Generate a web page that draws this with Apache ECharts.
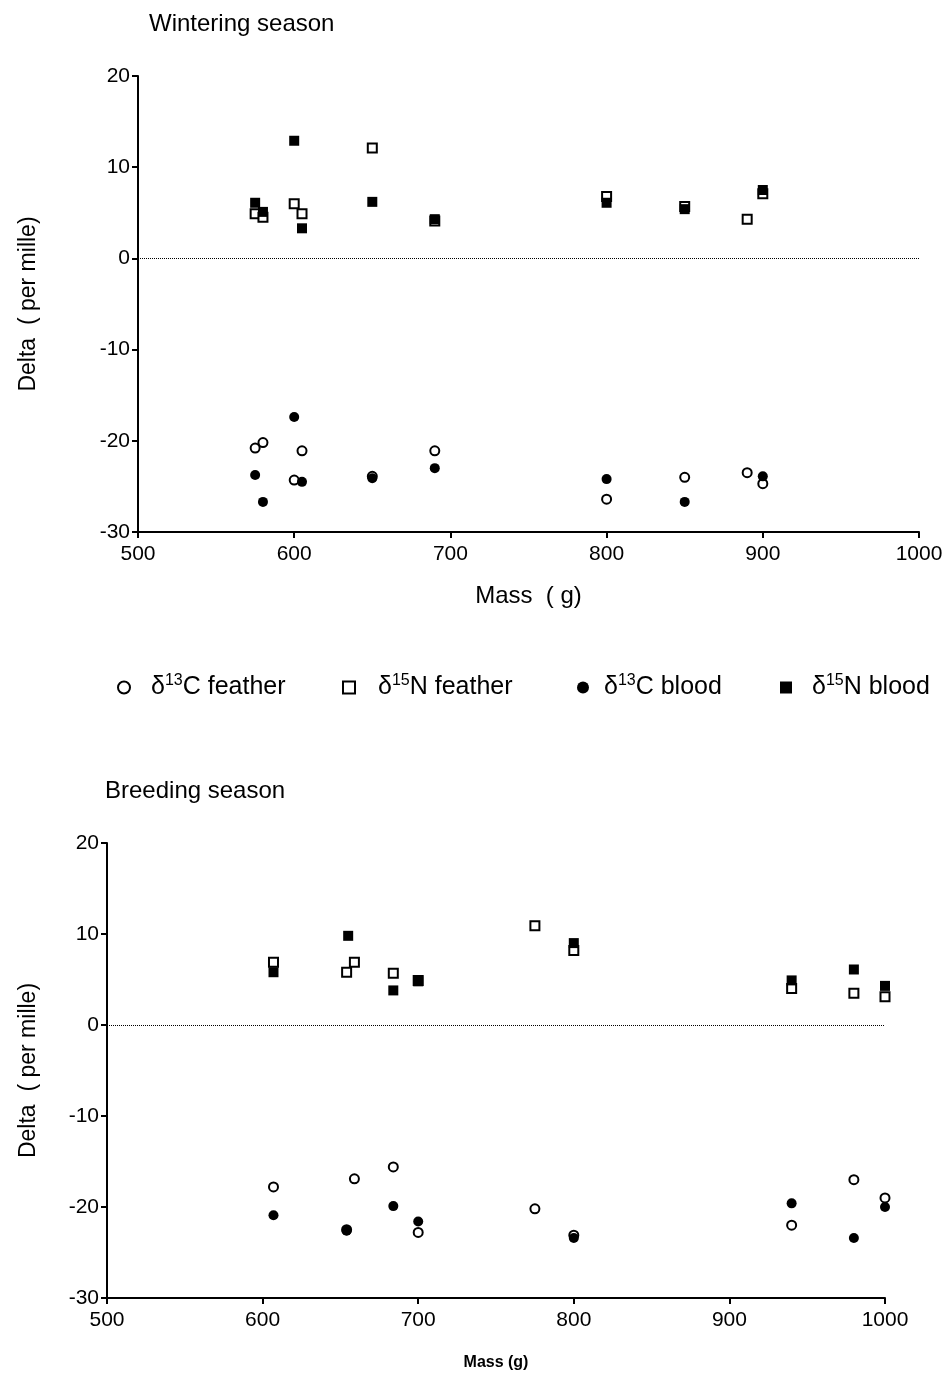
<!DOCTYPE html>
<html>
<head>
<meta charset="utf-8">
<script src="https://cdn.jsdelivr.net/npm/echarts@6/dist/echarts.min.js"></script>
<style>
  html, body { margin: 0; padding: 0; background: #fff; }
  #chart { width: 949px; height: 1375px; }
</style>
</head>
<body>
<div id="chart"></div>
<script>
// axis ticks
const massTicks = [500, 600, 700, 800, 900, 1000]
const deltaTicks = [-30, -20, -10, 0, 10, 20]

// wintering season: [mass (g), delta (per mille)]
const winterCFeather = [[575, -20.8], [580, -20.2], [600, -24.3], [605, -21.1], [650, -23.9], [690, -21.1], [800, -26.4], [850, -24.0], [890, -23.5], [900, -24.7]]
const winterNFeather = [[575, 4.9], [580, 4.5], [600, 6.0], [605, 4.9], [650, 12.1], [690, 4.1], [800, 6.8], [850, 5.7], [890, 4.3], [900, 7.1]]
const winterCBlood = [[575, -23.75], [580, -26.7], [600, -17.4], [605, -24.5], [650, -24.1], [690, -23.0], [800, -24.2], [850, -26.7], [900, -23.9]]
const winterNBlood = [[575, 6.1], [580, 5.1], [600, 12.9], [605, 3.3], [650, 6.2], [690, 4.3], [800, 6.1], [850, 5.4], [900, 7.5]]

// breeding season
const breedCFeather = [[607, -17.8], [654, -22.5], [659, -16.9], [684, -15.6], [700, -22.8], [775, -20.2], [800, -23.1], [940, -22.0], [980, -17.0], [1000, -19.0]]
const breedNFeather = [[607, 6.9], [654, 5.8], [659, 6.9], [684, 5.7], [700, 4.9], [775, 10.9], [800, 8.2], [940, 4.0], [980, 3.5], [1000, 3.1]]
const breedCBlood = [[607, -20.9], [654, -22.6], [684, -19.9], [700, -21.6], [800, -23.4], [940, -19.6], [980, -23.4], [1000, -20.0]]
const breedNBlood = [[607, 5.8], [655, 9.8], [684, 3.8], [700, 4.8], [800, 9.0], [940, 4.9], [980, 6.1], [1000, 4.3]]

const seriesNames = ['C feather', 'N feather', 'C blood', 'N blood']
const legendText = {
  'C feather': '{g|}{a|δ}{s|13}{a|C feather}',
  'N feather': '{g|}{a|δ}{s|15}{a|N feather}',
  'C blood': '{g|}{a|δ}{s|13}{a|C blood}',
  'N blood': '{g|}{a|δ}{s|15}{a|N blood}'
}

const font = 'Liberation Sans, Arial, sans-serif'

const markerStyle = {
  'C feather': { symbol: 'circle', symbolSize: 9, itemStyle: { color: '#fff', borderColor: '#000', borderWidth: 2, opacity: 1 } },
  'N feather': { symbol: 'rect', symbolSize: 9, itemStyle: { color: '#fff', borderColor: '#000', borderWidth: 2, opacity: 1 } },
  'C blood': { symbol: 'circle', symbolSize: 10, itemStyle: { color: '#000', opacity: 1 } },
  'N blood': { symbol: 'rect', symbolSize: 10, itemStyle: { color: '#000', opacity: 1 } }
}

function xAxisFor(gridIndex, name, nameStyle, nameGap) {
  return {
    gridIndex, type: 'value', min: 500, max: 1000, interval: 100,
    name, nameLocation: 'middle', nameGap, nameTextStyle: nameStyle,
    axisLine: { show: true, onZero: false, lineStyle: { color: '#000', width: 2 } },
    axisTick: { show: true, length: 6, lineStyle: { color: '#000', width: 2 } },
    axisLabel: { color: '#000', fontSize: 21, fontFamily: font, margin: 12, formatter: v => String(v) },
    splitLine: { show: false }
  }
}

function yAxisFor(gridIndex, nameGap) {
  return {
    gridIndex, type: 'value', min: -30, max: 20, interval: 10,
    name: 'Delta  ( per mille)', nameLocation: 'middle', nameGap,
    nameTextStyle: { color: '#000', fontSize: 23, fontFamily: font },
    axisLine: { show: true, onZero: false, lineStyle: { color: '#000', width: 2 } },
    axisTick: { show: true, length: 6, lineStyle: { color: '#000', width: 2 } },
    axisLabel: { color: '#000', fontSize: 21, fontFamily: font, margin: 8 },
    splitLine: { show: false }
  }
}

function makeSeries(name, data, axisIndex, withZero) {
  const s = Object.assign({
    name, type: 'scatter', data,
    xAxisIndex: axisIndex, yAxisIndex: axisIndex,
    emphasis: { disabled: true }
  }, markerStyle[name])
  if (withZero) {
    s.markLine = {
      silent: true, symbol: 'none', label: { show: false },
      lineStyle: { color: '#000', type: 'dotted', width: 1 },
      data: [{ yAxis: 0 }]
    }
  }
  return s
}

const legendLeft = [112, 337, 572, 775]
const legendGap = [16, 18, 10, 15]
const legends = seriesNames.map((n, i) => ({
  data: [n], left: legendLeft[i], top: 668, orient: 'horizontal',
  itemWidth: 12, itemHeight: 12,
  selectedMode: false,
  formatter: nm => legendText[nm],
  textStyle: {
    rich: {
      g: { width: legendGap[i] },
      a: { fontSize: 25, fontFamily: font, color: '#000' },
      s: { fontSize: 16, fontFamily: font, color: '#000', padding: [0, 0, 13, 0] }
    }
  }
}))

const chart = echarts.init(document.getElementById('chart'), null, { renderer: 'canvas' })
chart.setOption({
  backgroundColor: '#fff',
  animation: false,
  title: [
    { text: 'Wintering season', left: 144, top: 7, textStyle: { fontSize: 24, fontWeight: 'normal', fontFamily: font, color: '#000' } },
    { text: 'Breeding season', left: 100, top: 774, textStyle: { fontSize: 24, fontWeight: 'normal', fontFamily: font, color: '#000' } }
  ],
  legend: legends,
  grid: [
    { left: 138, top: 76, width: 781, height: 456 },
    { left: 107, top: 843, width: 778, height: 455 }
  ],
  xAxis: [
    xAxisFor(0, 'Mass  ( g)', { color: '#000', fontSize: 24, fontFamily: font }, 52),
    xAxisFor(1, 'Mass (g)', { color: '#000', fontSize: 16, fontWeight: 'bold', fontFamily: font }, 57)
  ],
  yAxis: [yAxisFor(0, 98), yAxisFor(1, 67)],
  series: [
    makeSeries('C feather', winterCFeather, 0, true),
    makeSeries('N feather', winterNFeather, 0, false),
    makeSeries('C blood', winterCBlood, 0, false),
    makeSeries('N blood', winterNBlood, 0, false),
    makeSeries('C feather', breedCFeather, 1, true),
    makeSeries('N feather', breedNFeather, 1, false),
    makeSeries('C blood', breedCBlood, 1, false),
    makeSeries('N blood', breedNBlood, 1, false)
  ]
})
</script>
</body>
</html>
